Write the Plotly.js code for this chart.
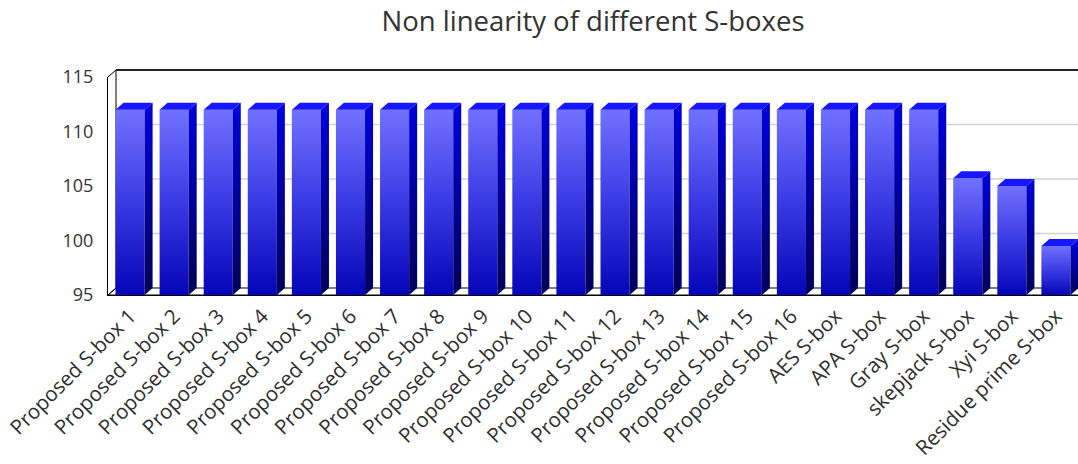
<!DOCTYPE html>
<html>
<head>
<meta charset="utf-8">
<script src="https://cdn.plot.ly/plotly-3.0.1.min.js"></script>
<style>
  html, body { margin: 0; padding: 0; background: #fff; }
  #chart { width: 1078px; height: 464px; }
</style>
</head>
<body>
<div id="chart"></div>
<script>
// S-box names along the category axis
const categories = [
  'Proposed S-box 1', 'Proposed S-box 2', 'Proposed S-box 3', 'Proposed S-box 4',
  'Proposed S-box 5', 'Proposed S-box 6', 'Proposed S-box 7', 'Proposed S-box 8',
  'Proposed S-box 9', 'Proposed S-box 10', 'Proposed S-box 11', 'Proposed S-box 12',
  'Proposed S-box 13', 'Proposed S-box 14', 'Proposed S-box 15', 'Proposed S-box 16',
  'AES S-box', 'APA S-box', 'Gray S-box', 'skepjack S-box', 'Xyi S-box', 'Residue prime S-box'
];

// Nonlinearity of each S-box
const nonlinearity = [
  112, 112, 112, 112, 112, 112, 112, 112,
  112, 112, 112, 112, 112, 112, 112, 112,
  112, 112, 112, 105.7, 105, 99.5
];

const yTicks = [95, 100, 105, 110, 115];
const yRange = [95, 115];

// ---- geometry of the pseudo-3D frame ----
const W = 1078, H = 464;
const M = { l: 108, r: 0, t: 77, b: 169 };
const PH = H - M.t - M.b;          // plot height in px
const PW = W - M.l - M.r;          // plot width in px
const DX = 8, DY = 7;              // offset of the back plane, px
const BAR_W = 0.66;                // bar width in category units
const HALF = BAR_W / 2 * PW / categories.length; // half front width, px
const dyData = DY * (yRange[1] - yRange[0]) / PH; // depth rise in data units

const shapes = [];
const sideIdx = new Set();

// floor slab
shapes.push({
  type: 'path', layer: 'below',
  xref: 'paper', yref: 'paper', xsizemode: 'pixel', ysizemode: 'pixel',
  xanchor: 0, yanchor: 0,
  path: `M0,0 L${DX},${DY} L${PW + DX + 20},${DY} L${PW + 20},0 Z`,
  fillcolor: '#ffffff', line: { color: '#000000', width: 1 }
});

// back-wall grid lines
yTicks.slice(1, -1).forEach(t => {
  shapes.push({
    type: 'line', layer: 'below',
    xref: 'paper', yref: 'y', xsizemode: 'pixel', ysizemode: 'pixel',
    xanchor: 0, yanchor: t,
    x0: DX, x1: PW + DX + 20, y0: DY, y1: DY,
    line: { color: '#d2d2d2', width: 1.5 }
  });
});

// left wall edges
shapes.push({
  type: 'path', layer: 'below',
  xref: 'paper', yref: 'paper', xsizemode: 'pixel', ysizemode: 'pixel',
  xanchor: 0, yanchor: 0,
  path: `M0,0 L${DX},${DY} L${DX},${PH + DY} L0,${PH}`,
  line: { color: '#000000', width: 1 }
});

// top edge of the back wall
shapes.push({
  type: 'line', layer: 'above',
  xref: 'paper', yref: 'paper', xsizemode: 'pixel', ysizemode: 'pixel',
  xanchor: 0, yanchor: 1,
  x0: DX, x1: PW + DX + 20, y0: DY, y1: DY,
  line: { color: '#222222', width: 2 }
});

// side and top faces of every bar
nonlinearity.forEach((v, i) => {
  sideIdx.add(shapes.length);
  shapes.push({
    type: 'path', layer: 'above',
    xref: 'x', yref: 'y', xsizemode: 'pixel', ysizemode: 'scaled',
    xanchor: i,
    path: `M${HALF},${v} L${HALF + DX},${v + dyData} L${HALF + DX},${yRange[0] + dyData} L${HALF},${yRange[0]} Z`,
    fillcolor: '#00009a', line: { width: 0 }
  });
  shapes.push({
    type: 'path', layer: 'above',
    xref: 'x', yref: 'y', xsizemode: 'pixel', ysizemode: 'pixel',
    xanchor: i, yanchor: v,
    path: `M${-HALF},0 L${-HALF + DX},${DY} L${HALF + DX},${DY} L${HALF},0 Z`,
    fillcolor: '#1616ff', line: { width: 0 }
  });
});

const trace = {
  type: 'bar',
  x: categories,
  y: nonlinearity.map(v => v - yRange[0]),
  base: yRange[0],
  width: BAR_W,
  marker: { color: '#3030e0', line: { width: 0 } },
  hoverinfo: 'skip'
};

const font = "'Open Sans', 'Noto Sans', sans-serif";

const layout = {
  width: W, height: H,
  margin: M,
  paper_bgcolor: '#ffffff',
  plot_bgcolor: '#ffffff',
  showlegend: false,
  title: {
    text: 'Non linearity of different S-boxes',
    font: { family: font, size: 27.5, color: '#333333' },
    xref: 'paper', x: 0.5, xanchor: 'center',
    yref: 'container', y: 1 - 21 / H, yanchor: 'middle'
  },
  xaxis: {
    type: 'category',
    range: [-0.5, categories.length - 0.5],
    showgrid: false, zeroline: false,
    showline: true, linecolor: '#000000', linewidth: 1,
    ticks: '', tickangle: -45,
    tickfont: { family: font, size: 20.5, color: '#2e2e2e' },
    automargin: false, fixedrange: true
  },
  yaxis: {
    range: yRange,
    tickvals: yTicks,
    ticktext: yTicks.map(String),
    showgrid: false, zeroline: false,
    showline: true, linecolor: '#000000', linewidth: 1,
    ticks: '', ticklabelstandoff: 10,
    tickfont: { family: font, size: 18, color: '#333333' },
    automargin: false, fixedrange: true
  },
  shapes: shapes
};

const gd = document.getElementById('chart');

function addGradient(defs, id, stops) {
  const NS = 'http://www.w3.org/2000/svg';
  const g = document.createElementNS(NS, 'linearGradient');
  g.setAttribute('id', id);
  g.setAttribute('x1', '0'); g.setAttribute('y1', '0');
  g.setAttribute('x2', '0'); g.setAttribute('y2', '1');
  stops.forEach(([off, col]) => {
    const s = document.createElementNS(NS, 'stop');
    s.setAttribute('offset', off);
    s.setAttribute('stop-color', col);
    g.appendChild(s);
  });
  defs.appendChild(g);
}

function shadeFaces() {
  const svg = gd.querySelector('svg.main-svg');
  const defs = svg.querySelector('defs');
  addGradient(defs, 'frontShade', [[0, '#7171ff'], [0.5, '#3a3ae4'], [1, '#0505b8']]);
  addGradient(defs, 'sideShade', [[0, '#0000e0'], [1, '#000056']]);
  gd.querySelectorAll('.barlayer .point path').forEach(p => {
    p.style.fill = 'url(#frontShade)';
  });
  gd.querySelectorAll('.shapelayer path').forEach(p => {
    if (sideIdx.has(+p.getAttribute('data-index'))) p.style.fill = 'url(#sideShade)';
  });
}

Plotly.newPlot(gd, [trace], layout, { staticPlot: true, displayModeBar: false })
  .then(shadeFaces);
</script>
</body>
</html>
